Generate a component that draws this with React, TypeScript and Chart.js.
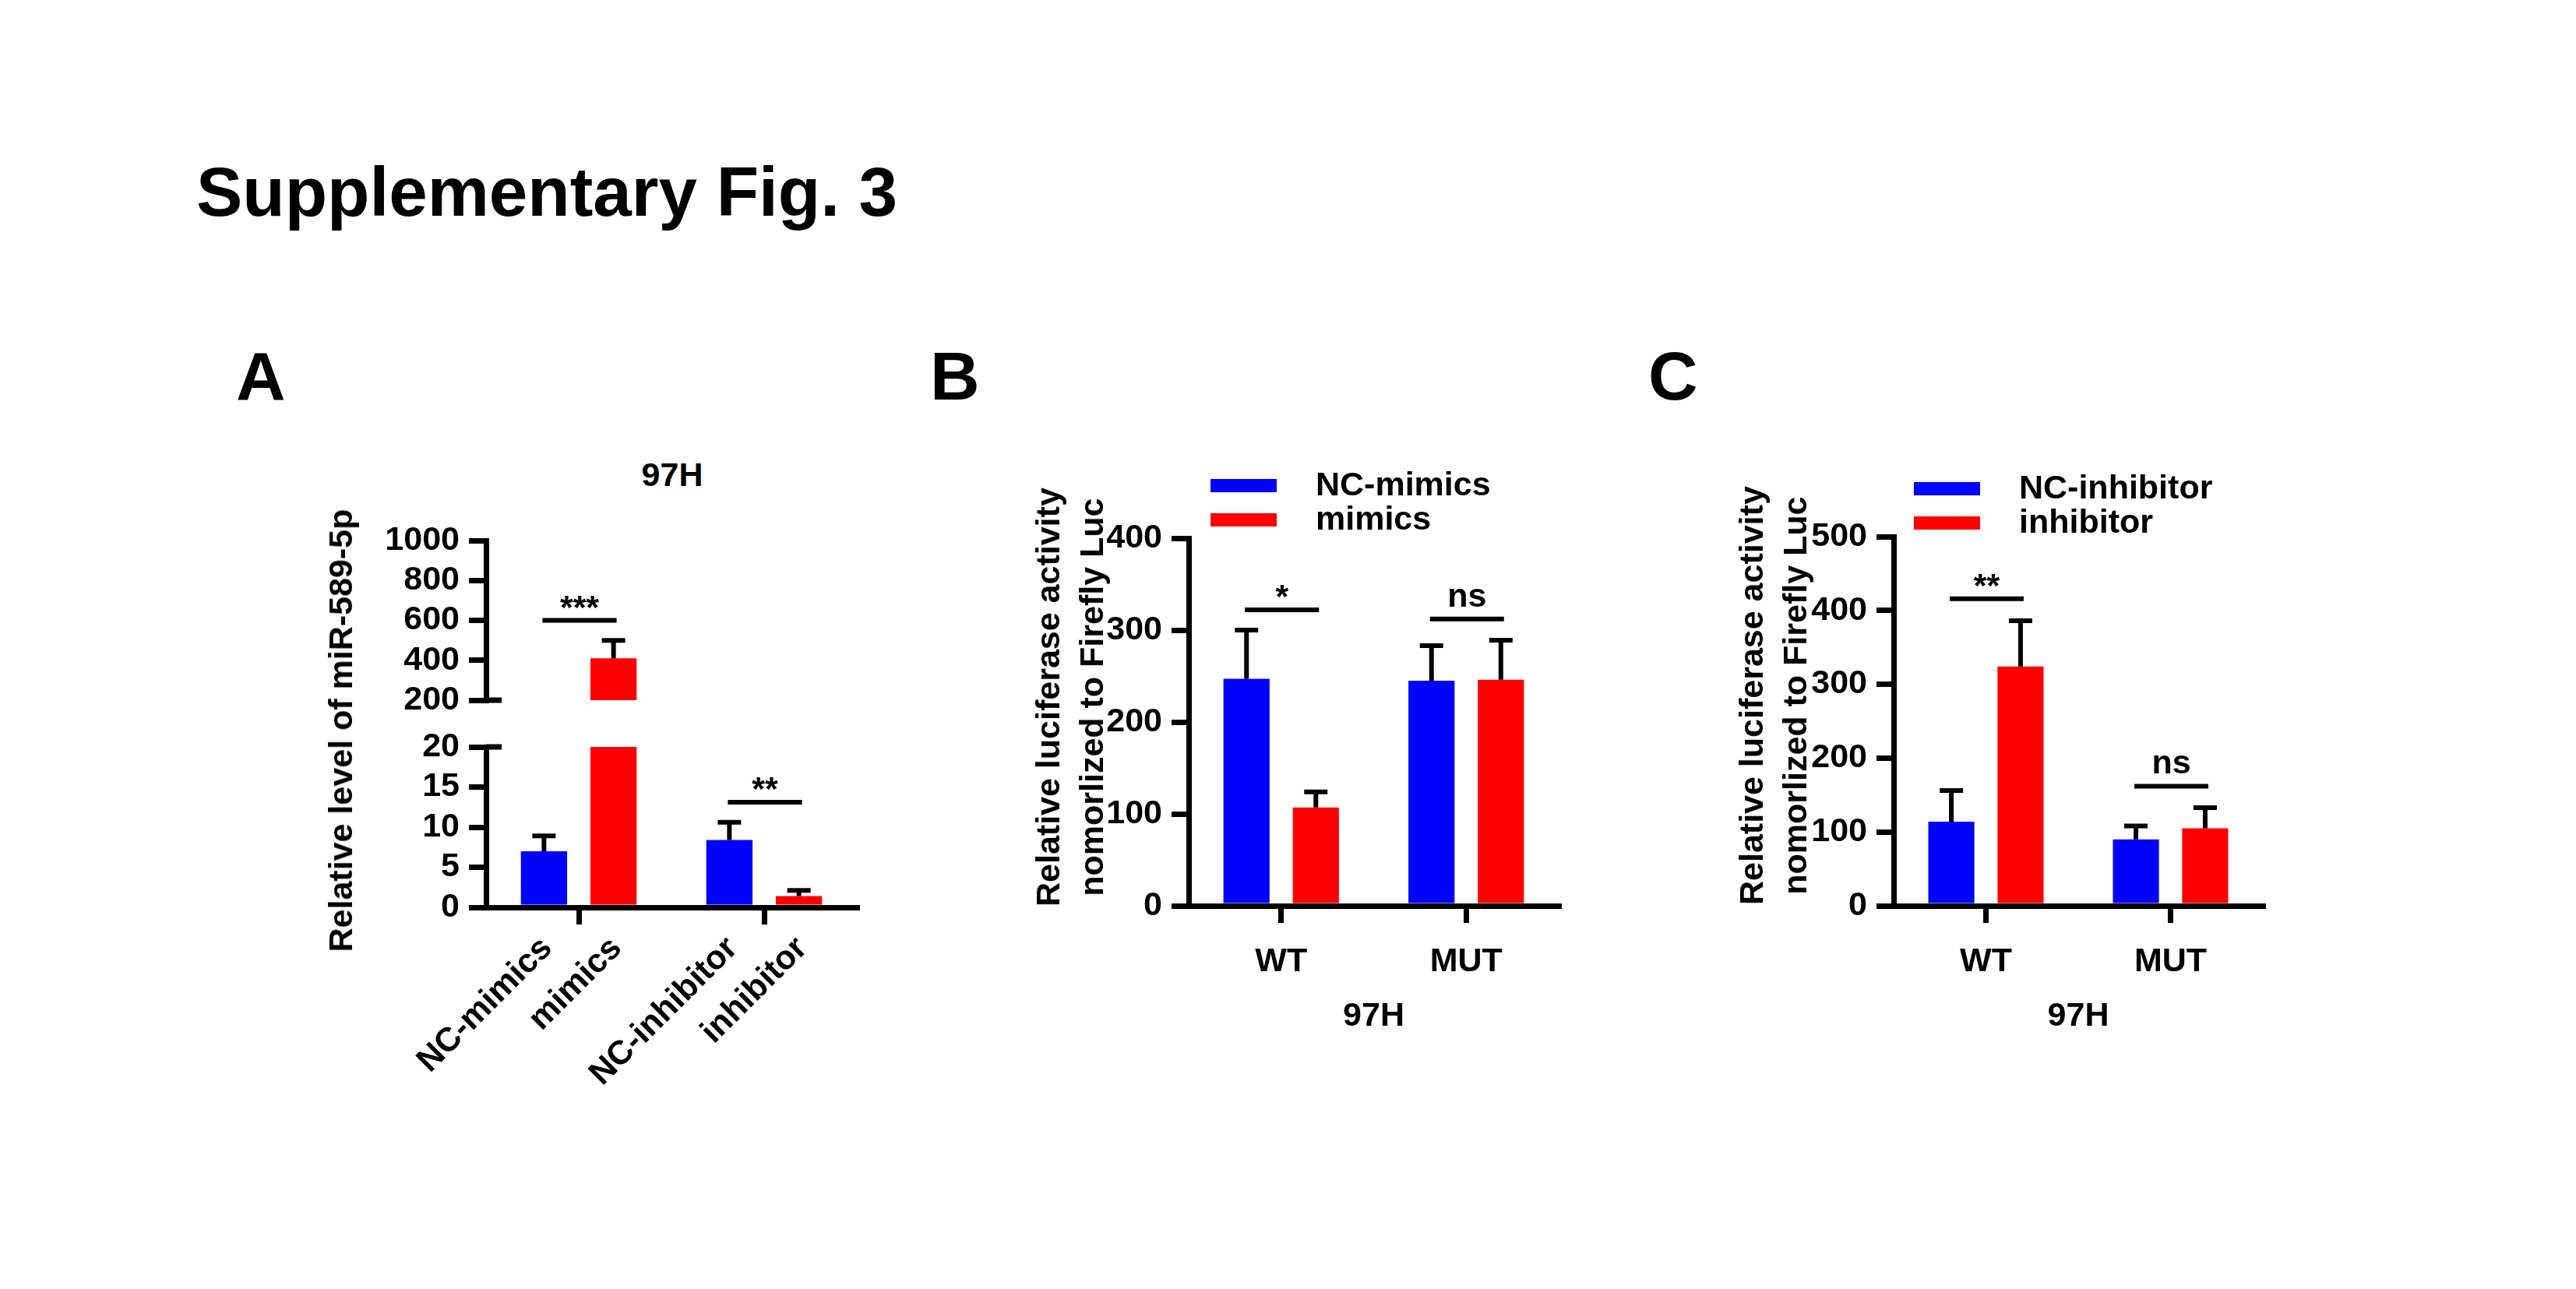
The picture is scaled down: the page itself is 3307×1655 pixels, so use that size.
import { useEffect, useRef } from "react";
import { Chart, registerables } from "chart.js";
import type { ChartConfiguration, Plugin } from "chart.js";

Chart.register(...registerables);

const FONT = "'Liberation Sans', Arial, Helvetica, sans-serif";
const BLUE = "#0000ff";
const RED = "#ff0000";

// A: relative level of miR-589-5p (broken y axis)
const aGroups = ["mimics", "inhibitor"];
const aControlNames = ["NC-mimics", "NC-inhibitor"];
const aTreatNames = ["mimics", "inhibitor"];
const aControlMean = [7.0, 8.4];
const aControlSd = [1.9, 2.2];
const aTreatMean = [410, 1.4];
const aTreatSd = [90, 0.7];
const aUpperTicks = [200, 400, 600, 800, 1000];
const aLowerTicks = [0, 5, 10, 15, 20];

// B: luciferase, mimics
const bGroups = ["WT", "MUT"];
const bNcMean = [247, 245];
const bNcSd = [53, 38];
const bMimicsMean = [107, 246];
const bMimicsSd = [17, 43];
const bTicks = [0, 100, 200, 300, 400];

// C: luciferase, inhibitor
const cGroups = ["WT", "MUT"];
const cNcMean = [114, 90];
const cNcSd = [42, 18];
const cInhMean = [324, 105];
const cInhSd = [62, 28];
const cTicks = [0, 100, 200, 300, 400, 500];

type Sig = { group: number; text: string; at: number };
const aSigUpper: Sig[] = [{ group: 0, text: "***", at: 600 }];
const aSigLower: Sig[] = [{ group: 1, text: "**", at: 13.1 }];
const bSig: Sig[] = [
  { group: 0, text: "*", at: 322 },
  { group: 1, text: "ns", at: 312 },
];
const cSig: Sig[] = [
  { group: 0, text: "**", at: 416 },
  { group: 1, text: "ns", at: 162 },
];

type Box = { x: number; y: number; w: number; h: number };
type Area = { left: number; top: number; right: number; bottom: number };

type Extras = {
  sd: number[][];
  sig: Sig[];
  legend?: { dx: number; dy: number };
  barNames?: string[][];
  breakEnd?: "min" | "max";
};

const LINE = 7;
const boldFont = (size: number) => `bold ${size}px ${FONT}`;

function extrasPlugin(e: Extras): Plugin<"bar"> {
  return {
    id: "extras",
    afterDraw(chart) {
      const { ctx, chartArea } = chart;
      const y = chart.scales.y;
      ctx.save();
      ctx.strokeStyle = "#000";
      ctx.fillStyle = "#000";
      ctx.lineWidth = 6;
      ctx.font = boldFont(43);

      // error bars (upper half only)
      chart.data.datasets.forEach((ds, i) => {
        chart.getDatasetMeta(i).data.forEach((bar, j) => {
          const mean = ds.data[j] as number;
          const top = mean + e.sd[i][j];
          if (mean < y.min || top > y.max) return;
          const py = y.getPixelForValue(top);
          ctx.beginPath();
          ctx.moveTo(bar.x, y.getPixelForValue(mean));
          ctx.lineTo(bar.x, py);
          ctx.moveTo(bar.x - 15, py);
          ctx.lineTo(bar.x + 15, py);
          ctx.stroke();
        });
      });

      // significance brackets
      e.sig.forEach((s) => {
        const x1 = chart.getDatasetMeta(0).data[s.group].x;
        const x2 = chart.getDatasetMeta(1).data[s.group].x;
        const py = y.getPixelForValue(s.at);
        ctx.beginPath();
        ctx.moveTo(x1 - 2, py);
        ctx.lineTo(x2 + 4, py);
        ctx.stroke();
        const m = ctx.measureText(s.text);
        ctx.textAlign = "center";
        ctx.textBaseline = "alphabetic";
        ctx.fillText(s.text, (x1 + x2) / 2 + 1, py - 16 - m.actualBoundingBoxDescent);
      });

      // legend
      if (e.legend) {
        const lg = e.legend;
        chart.data.datasets.forEach((ds, i) => {
          const lx = chartArea.left + lg.dx;
          const ly = chartArea.top + lg.dy + i * 44;
          ctx.fillStyle = ds.backgroundColor as string;
          ctx.fillRect(lx, ly, 85, 17);
          ctx.fillStyle = "#000";
          ctx.textAlign = "left";
          ctx.textBaseline = "middle";
          ctx.fillText(ds.label ?? "", lx + 135, ly + 9.5);
        });
      }

      // rotated per-bar names
      if (e.barNames) {
        const names = e.barNames;
        ctx.textAlign = "right";
        ctx.textBaseline = "middle";
        chart.data.datasets.forEach((_, i) => {
          chart.getDatasetMeta(i).data.forEach((bar, j) => {
            ctx.save();
            ctx.translate(bar.x + 4, chartArea.bottom + 46);
            ctx.rotate(-Math.PI / 4);
            ctx.fillText(names[i][j], 0, 0);
            ctx.restore();
          });
        });
      }

      // axis break end cap
      if (e.breakEnd) {
        const py = y.getPixelForValue(e.breakEnd === "min" ? y.min : y.max);
        ctx.lineWidth = LINE;
        ctx.beginPath();
        ctx.moveTo(chartArea.left, py);
        ctx.lineTo(chartArea.left + 20, py);
        ctx.stroke();
      }
      ctx.restore();
    },
  };
}

type PanelProps = {
  box: Box;
  area: Area;
  xHeight: number;
  showX: boolean;
  xLabels: boolean;
  xTitle?: string;
  groups: string[];
  names: string[];
  means: number[][];
  yMin: number;
  yMax: number;
  yTicks: number[];
  extras: Extras;
};

function makeConfig(p: PanelProps): ChartConfiguration<"bar"> {
  const font = { family: FONT, size: 43, weight: "bold" as const };
  const bottomPad = p.box.y + p.box.h - p.area.bottom - (p.showX ? p.xHeight : 0);
  const dataset = (i: number, color: string) => ({
    label: p.names[i],
    data: p.means[i],
    backgroundColor: color,
    borderWidth: 0,
    categoryPercentage: 0.75,
    barPercentage: 0.665,
    clip: 0,
  });
  return {
    type: "bar",
    data: {
      labels: p.groups,
      datasets: [dataset(0, BLUE), dataset(1, RED)],
    },
    options: {
      responsive: false,
      animation: false,
      devicePixelRatio: 1,
      events: [],
      layout: {
        padding: {
          left: 0,
          top: p.area.top - p.box.y,
          right: p.box.x + p.box.w - p.area.right,
          bottom: bottomPad,
        },
      },
      plugins: {
        legend: { display: false },
        tooltip: { enabled: false },
        title: { display: false },
      },
      scales: {
        x: {
          type: "category",
          display: p.showX,
          offset: true,
          z: 1,
          grid: {
            offset: false,
            drawOnChartArea: false,
            drawTicks: true,
            tickLength: 22,
            lineWidth: LINE,
            color: "#000",
          },
          border: { display: true, width: LINE, color: "#000" },
          ticks: {
            display: p.xLabels,
            font,
            color: "#000",
            padding: 24,
            maxRotation: 0,
            autoSkip: false,
          },
          title: {
            display: !!p.xTitle,
            text: p.xTitle ?? "",
            font,
            color: "#000",
            padding: { top: 0, bottom: 12 },
          },
          afterFit: (s) => {
            s.height = p.xHeight;
          },
        },
        y: {
          type: "linear",
          min: p.yMin,
          max: p.yMax,
          z: 1,
          afterBuildTicks: (s) => {
            s.ticks = p.yTicks.map((v) => ({ value: v }));
          },
          grid: {
            drawOnChartArea: false,
            drawTicks: true,
            tickLength: 22,
            lineWidth: LINE,
            color: "#000",
          },
          border: { display: true, width: LINE, color: "#000" },
          ticks: {
            font,
            color: "#000",
            padding: 12,
            autoSkip: false,
            callback: (v) => String(v),
          },
          afterFit: (s) => {
            s.width = p.area.left - p.box.x;
          },
        },
      },
    },
    plugins: [extrasPlugin(p.extras)],
  };
}

function BarPanel(props: PanelProps) {
  const ref = useRef<HTMLCanvasElement>(null);

  useEffect(() => {
    if (!ref.current) return;
    const chart = new Chart(ref.current, makeConfig(props));
    return () => chart.destroy();
  }, []);

  const { box } = props;
  return (
    <canvas
      ref={ref}
      width={box.w}
      height={box.h}
      style={{ position: "absolute", left: box.x, top: box.y, width: box.w, height: box.h }}
    />
  );
}

const text = (style: React.CSSProperties, children: React.ReactNode) => (
  <div style={{ position: "absolute", whiteSpace: "nowrap", lineHeight: 1, ...style }}>{children}</div>
);

const yTitle = (cx: number, cy: number, lines: string[]) => (
  <div
    style={{
      position: "absolute",
      left: cx,
      top: cy,
      transform: "translate(-50%, -50%) rotate(-90deg)",
      whiteSpace: "nowrap",
      fontSize: 43,
      lineHeight: "56px",
      textAlign: "center",
    }}
  >
    {lines.map((l) => (
      <div key={l}>{l}</div>
    ))}
  </div>
);

export default function App() {
  return (
    <div
      style={{
        position: "absolute",
        left: 0,
        top: 0,
        width: 3307,
        height: 1655,
        overflow: "hidden",
        background: "#fff",
        color: "#000",
        fontFamily: FONT,
        fontWeight: "bold",
      }}
    >
      {text({ left: 252, top: 202, fontSize: 89 }, "Supplementary Fig. 3")}
      {text({ left: 303, top: 439, fontSize: 88 }, "A")}
      {text({ left: 1194, top: 439, fontSize: 88 }, "B")}
      {text({ left: 2116, top: 439, fontSize: 88 }, "C")}
      {text({ left: 863, top: 588, fontSize: 43, transform: "translateX(-50%)" }, "97H")}

      {/* A, upper segment */}
      <BarPanel
        box={{ x: 380, y: 620, w: 760, h: 340 }}
        area={{ left: 624, top: 694, right: 1100, bottom: 899 }}
        xHeight={0}
        showX={false}
        xLabels={false}
        groups={aGroups}
        names={["NC", "treated"]}
        means={[aControlMean, aTreatMean]}
        yMin={200}
        yMax={1000}
        yTicks={aUpperTicks}
        extras={{ sd: [aControlSd, aTreatSd], sig: aSigUpper, breakEnd: "min" }}
      />
      {/* A, lower segment */}
      <BarPanel
        box={{ x: 380, y: 890, w: 760, h: 560 }}
        area={{ left: 624, top: 959, right: 1100, bottom: 1165 }}
        xHeight={100}
        showX={true}
        xLabels={false}
        groups={aGroups}
        names={["NC", "treated"]}
        means={[aControlMean, aTreatMean]}
        yMin={0}
        yMax={20}
        yTicks={aLowerTicks}
        extras={{
          sd: [aControlSd, aTreatSd],
          sig: aSigLower,
          breakEnd: "max",
          barNames: [aControlNames, aTreatNames],
        }}
      />
      {yTitle(437, 938, ["Relative level of miR-589-5p"])}

      {/* B */}
      <BarPanel
        box={{ x: 1300, y: 560, w: 760, h: 840 }}
        area={{ left: 1526, top: 691, right: 2001, bottom: 1163 }}
        xHeight={180}
        showX={true}
        xLabels={true}
        xTitle="97H"
        groups={bGroups}
        names={["NC-mimics", "mimics"]}
        means={[bNcMean, bMimicsMean]}
        yMin={0}
        yMax={400}
        yTicks={bTicks}
        extras={{ sd: [bNcSd, bMimicsSd], sig: bSig, legend: { dx: 28, dy: -76 } }}
      />
      {yTitle(1373, 895, ["Relative luciferase activity", "nomorlized to Firefly Luc"])}

      {/* C */}
      <BarPanel
        box={{ x: 2220, y: 560, w: 760, h: 840 }}
        area={{ left: 2431, top: 689, right: 2905, bottom: 1163 }}
        xHeight={180}
        showX={true}
        xLabels={true}
        xTitle="97H"
        groups={cGroups}
        names={["NC-inhibitor", "inhibitor"]}
        means={[cNcMean, cInhMean]}
        yMin={0}
        yMax={500}
        yTicks={cTicks}
        extras={{ sd: [cNcSd, cInhSd], sig: cSig, legend: { dx: 26, dy: -70 } }}
      />
      {yTitle(2276, 893, ["Relative luciferase activity", "nomorlized to Firefly Luc"])}
    </div>
  );
}
